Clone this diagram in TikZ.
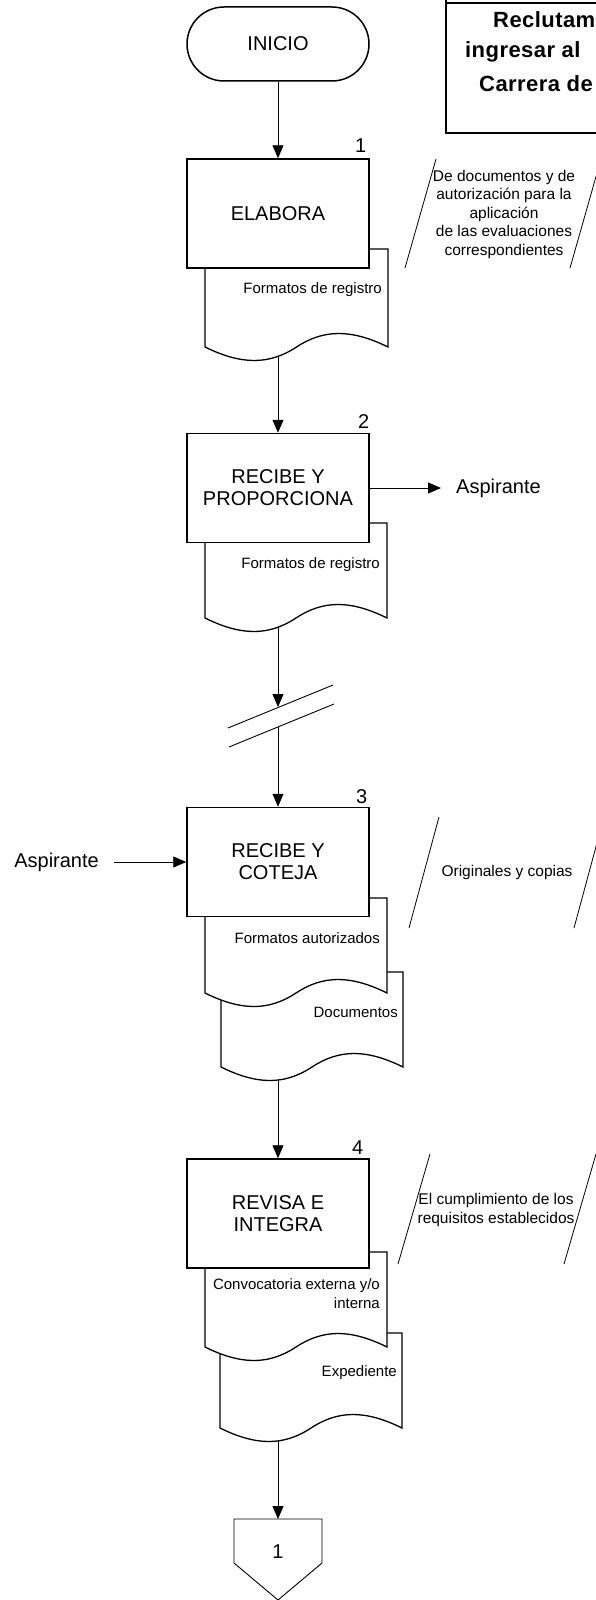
\documentclass[tikz,border=0pt]{standalone}
\usepackage{fontspec}
\setmainfont{Liberation Sans}
\usetikzlibrary{calc,arrows.meta}
\pgfdeclarelayer{background}
\pgfsetlayers{background,main}

\tikzset{
  proc/.style={draw, line width=1.5pt, fill=white, minimum width=182pt, minimum height=109pt,
    inner sep=0pt, align=center, font=\fontsize{20}{22}\selectfont},
  termin/.style={draw, line width=1.5pt, fill=white, rounded corners=37pt, minimum width=182pt,
    minimum height=74pt, inner sep=0pt, font=\fontsize{20}{22}\selectfont},
  num/.style={inner sep=0pt, font=\fontsize{20}{22}\selectfont},
  side/.style={inner sep=0pt, inner xsep=15pt, font=\fontsize{20}{22}\selectfont},
  doc/.style={draw, line width=1.3pt, fill=white},
  doctxt/.style={inner sep=0pt, anchor=east, align=right, font=\fontsize{15}{19}\selectfont},
  anno/.style={inner sep=0pt, align=center, font=\fontsize{15.5}{18.5}\selectfont},
  titletxt/.style={inner sep=0pt, anchor=west,
    font=\fontsize{22}{24}\selectfont\bfseries\addfontfeatures{LetterSpace=2}},
  slash/.style={line width=0.8pt},
  flow/.style={line width=0.9pt, -{Triangle[length=13pt,width=11pt]}},
}

% document symbol: x0, x1, top, bottom of the sides
\newcommand{\docform}[4]{%
  \draw[doc] (#1,#3) -- (#2,#3) -- (#2,#4)
    .. controls ({#2-0.2*(#2-#1)},{#4-18}) and ({#2-0.35*(#2-#1)},{#4-18}) .. ({(#1+#2)/2},#4)
    .. controls ({#1+0.35*(#2-#1)},{#4+18}) and ({#1+0.2*(#2-#1)},{#4+18}) .. (#1,#4) -- cycle;}

\begin{document}
\begin{tikzpicture}[x=1pt,y=-1pt]
  \useasboundingbox (0,0) rectangle (596,1600);
  \clip (0,0) rectangle (596,1600); % page edge cuts the title box

  % title box
  \draw[line width=2pt] (446,-5) -- (446,133) -- (620,133);
  \draw[line width=2pt] (446,3.5) -- (620,3.5);
  \node[titletxt] (ttl1) at (493,20) {Reclutam};
  \node[titletxt] (ttl2) at (465,52) {ingresar al};
  \node[titletxt] (ttl3) at (479,84) {Carrera de};

  % documents (back ones first)
  \docform{205}{388}{249}{347}
  \node[doctxt] (f1) at (382,290) {Formatos de registro};
  \coordinate (d1w) at (278,347);

  \docform{205}{387}{523}{618}
  \node[doctxt] (f2) at (380,565) {Formatos de registro};
  \coordinate (d2w) at (278,618);

  \docform{221}{403}{972}{1067}
  \node[doctxt] (f3b) at (398,1012) {Documentos};
  \docform{205}{387}{898}{993}
  \node[doctxt] (f3) at (380,938) {Formatos autorizados};
  \coordinate (d3w) at (278,1067);

  \docform{220}{402}{1333}{1428}
  \node[doctxt] (f4b) at (397,1373) {Expediente};
  \docform{205}{387}{1252}{1347}
  \node[doctxt] (f4) at (380,1294) {Convocatoria externa y/o\\interna};
  \coordinate (d4w) at (278,1428);

  % process boxes
  \node[termin] (inicio) at (278,44) {INICIO};
  \node[proc] (elabora) at (278,213.5) {ELABORA};
  \node[proc] (proporciona) at (278,488) {RECIBE Y\\PROPORCIONA};
  \node[proc] (coteja) at (278,862) {RECIBE Y\\COTEJA};
  \node[proc] (integra) at (278,1213.5) {REVISA E\\INTEGRA};

  \node[num] (n1) at ($(elabora.north east)+(-9,-13)$) {1};
  \node[num] (n2) at ($(proporciona.north east)+(-6,-11)$) {2};
  \node[num] (n3) at ($(coteja.north east)+(-8,-10)$) {3};
  \node[num] (n4) at ($(integra.north east)+(-12,-11)$) {4};

  \node[side, anchor=west] (asp1) at (441,488) {Aspirante};
  \node[side, anchor=east] (asp2) at (114,862) {Aspirante};

  % break in the flow
  \coordinate (brk1a) at (228,728);
  \coordinate (brk1b) at (333,685);
  \coordinate (brk2a) at (229,747);
  \coordinate (brk2b) at (334,704);
  \draw[slash, line width=0.9pt] (brk1a) -- (brk1b);
  \draw[slash, line width=0.9pt] (brk2a) -- (brk2b);
  \coordinate (cut1) at (278,707);
  \coordinate (cut2) at (278,726.5);

  % off-page connector
  \draw[doc, line width=0.9pt] (234,1519) -- (322,1519) -- (322,1563) -- (278,1600) -- (234,1563) -- cycle;
  \coordinate (pent) at (278,1519);
  \node[num] (offpage) at (278,1552) {1};

  % notes
  \draw[slash] (405,268) -- (436,159);
  \draw[slash] (570,268) -- (601,159);
  \node[anno] (a1) at (504,214) {De documentos y de\\autorización para la\\aplicación\\de las evaluaciones\\correspondientes};

  \draw[slash] (409,928) -- (439,817);
  \draw[slash] (574,928) -- (604,817);
  \node[anno] (a3) at (507,872) {Originales y copias};

  \draw[slash] (398,1264) -- (430,1154);
  \draw[slash] (564,1264) -- (596,1154);
  \node[anno] (a4) at (496,1210) {El cumplimiento de los\\requisitos establecidos};

  \begin{pgfonlayer}{background}
    \draw[flow] (inicio) -- (elabora);
    \draw[flow] (d1w) -- (proporciona);
    \draw[flow] (d2w) -- (cut1);
    \draw[flow] (cut2) -- (coteja);
    \draw[flow] (d3w) -- (integra);
    \draw[flow] (d4w) -- (pent);
    \draw[flow] (proporciona) -- (asp1);
    \draw[flow] (asp2) -- (coteja);
  \end{pgfonlayer}
\end{tikzpicture}
\end{document}
